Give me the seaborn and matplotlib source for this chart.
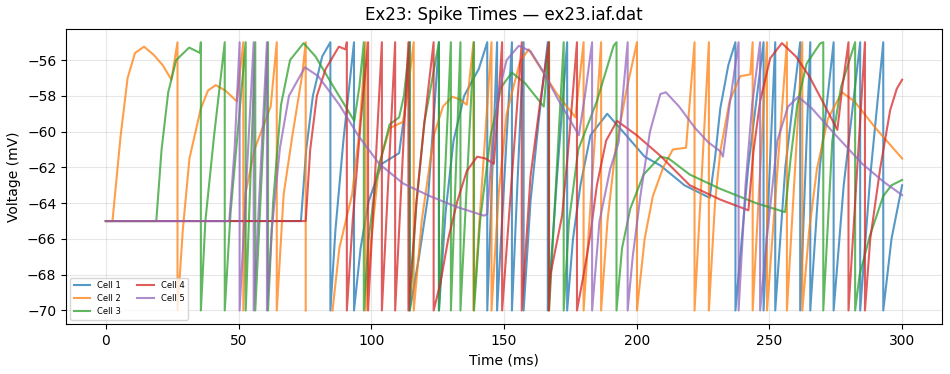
import numpy as np
import pandas as pd
import seaborn as sns
import matplotlib
matplotlib.use("Agg")
import matplotlib.pyplot as plt

# voltage traces (time ms, voltage mV); nan = gap in the trace
cell_names = ["Cell 1", "Cell 2", "Cell 3", "Cell 4", "Cell 5"]

cell1_t = [0, 73.5, 75.5, 78, 81.5, 84.6, 84.6, 86.5, 89.5, 93.5, 93.5, 96, 99, 104, 110.5, 112.5, 114.5, 114.5,
           118, 121.5, 125.5, 125.5, 128, 131, 135, 137.5, 140.5, 143.7, 143.7, 147.4, 147.4, 153, 153, 157.4, 157.4,
           160, 163, 166.5, 166.5, 170, 173.8, 173.8, 176, 178.8, 182.6, 188.9, 196, 203, 209, 218, 227.5, 229.5,
           231.5, 234.5, 237.2, 237.2, 242, 247.8, 247.8, 252.2, 252.2, 256, 261.6, 261.6, 265.4, 265.4, 269, 274.2,
           274.2, 278, 284.2, 284.2, 288, 292.9, 292.9, 296, 300]
cell1_v = [-65, -65, -61, -58, -55.8, -55, -70, -65.5, -60.5, -55, -70, -66.5, -63.9, -61.8, -61.2, -59, -55, -70,
           -67, -63.5, -55, -70, -64.5, -60.5, -58, -57.3, -56.5, -55, -70, -55, -70, -55, -70, -55, -70,
           -63.9, -59.5, -55, -70, -62.5, -55, -70, -66, -63, -60.2, -59.0, -60.2, -61.4, -61.9, -63, -63.7, -61.5,
           -58.7, -56.3, -55, -70, -62, -55, -70, -55, -70, -62, -55, -70, -55, -70, -62, -55,
           -70, -63, -55, -70, -62.5, -55, -70, -66, -63]

cell2_t = [0, 2.5, 5.6, 8.2, 11, 14.4, 18, 21.5, 24.7, 27, 27, 29, 31.5, 35.8, 38.5, 41.4, 45, 49.3, 51.8, 51.8,
           52.7, 56, 62.1, 64.4, 64.4, 67, 70.3, 74, 75.3, 75.3, np.nan, 85.4, 88, 92.8, 95.5, 97.9, 97.9, 100, 103,
           107, 112, 113.5, 116, 116, 119, 123.6, 127, 130.5, 133.5, 136, 138.5, 138.5, 145.3, 145.3, 148, 151, 156,
           159.3, 164, 170, 176.9, 180, 180, 186.6, 186.6, 189, 192, 196, 200.1, 200.1, 203, 206.1, 210, 213.6,
           218.6, 221.8, 221.8, 227.2, 227.2, 229.5, 231.5, 235, 239, 242.8, 243.7, 243.7, 249.1, 249.1, 256.6,
           256.6, 262.4, 262.4, 265, 267.9, 272, 277.3, 282, 290, 300]
cell2_v = [-65, -65, -60.2, -57.0, -55.6, -55.25, -55.7, -56.3, -57.1, -55, -70, -65.5, -61.5, -58.7, -57.7, -57.4,
           -57.7, -58.3, -55, -70, -63.4, -61, -58.6, -55, -70, -63.5, -60.2, -56.8, -55, -70, np.nan, -70, -66.5,
           -63.5, -60, -55, -70, -66, -61.8, -59.8, -59.45, -58, -55, -70, -65, -60.2, -58.6, -58.05, -58.2, -58.5,
           -55, -70, -55, -70, -63.5, -59, -56.1, -55.4, -56.5, -57.9, -59.2, -55, -70, -55, -70, -65, -61, -57.8,
           -55, -70, -66, -63.6, -62, -61, -60.9, -55, -70, -55, -70, -64, -61.1, -58.3, -56.9, -56.8, -55, -70,
           -55, -70, -55, -70, -55, -70, -65.5, -62.1, -59.3, -57.8, -58.3, -59.8, -61.5]

cell3_t = [0, 19, 21, 23.5, 26.5, 31.4, 35.5, 35.8, 35.8, 37.5, 40.8, 44.8, 44.8, 47, 52.7, 52.7, 56.3, 56.3, 61.1,
           61.1, 63, 66, 69.4, 74.5, 79, 85, 93.6, 95.5, 97.2, 97.2, 99, 102, 106.9, 110.5, 112.3, 114.5, 114.5, 117,
           120, 125.5, 125.5, 130, 130, 133.6, 133.6, 138.7, 138.7, 141, 145, 149, 153, 158, 165, 167, 167, 172.5,
           172.5, 174.5, 178, 185, 191.3, 192.4, 192.4, 194.5, 197.6, 202.6, 208.9, 212, 220, 231.5, 245, 255.9,
           258, 260.5, 264, 269.1, 270.3, 270.3, 273.7, 277, 282.3, 282.3, 284, 287.9, 292.9, 296, 300]
cell3_v = [-65, -65, -61, -57.8, -56, -55.3, -55.6, -55, -70, -65, -60.2, -55, -70, -64.5, -55, -70, -55, -70, -55,
           -70, -64, -58.5, -56, -55.05, -55.8, -57.3, -59.4, -57.5, -55, -70, -66, -62.5, -59.6, -59.2, -58, -55,
           -70, -64, -59.5, -55, -70, -55, -70, -55, -70, -55, -70, -65, -60.2, -57.5, -56.7, -57.3, -58.6, -55,
           -70, -55, -70, -65, -61, -58.3, -55.2, -55, -70, -66.5, -64.3, -62.4, -61.4, -61.5, -62.4, -63.2, -64,
           -64.5, -61.5, -58.5, -56.2, -55.07, -55, -70, -60.5, -57.5, -55, -70, -68, -65.8, -63.6, -63, -62.7]

cell4_t = [0, 75.3, 77, 79.5, 82.8, 87.8, 90.3, 90.8, 90.8, 93, 96, 98.8, 98.8, 104, 104, 109, 109, 114, 114, 117,
           120, 123.5, 123.5, 126, 129, 132.4, 136, 139.9, 143, 146.2, 147.8, 149.3, 149.3, 156.7, 156.7, 160,
           163.5, 166.9, 166.9, 167.5, 171.9, 174.5, 177.5, 177.5, 180, 182.5, 185, 188.5, 192.6, 200, 208.9, 220,
           231.5, 242.1, 244, 246.5, 250.3, 254.7, 260, 265, 270, 275.6, 277.5, 279.8, 279.8, 286, 286, 288, 291.7,
           295.5, 298, 300]
cell4_v = [-65, -65, -61, -58, -56.5, -55.25, -55.4, -55, -70, -65, -59.5, -55, -70, -55, -70, -55, -70, -55, -70,
           -64, -59.5, -55, -70, -68.5, -66, -63.9, -62.2, -61.4, -61.5, -61.8, -58.5, -55, -70, -55, -70, -62.5,
           -58.5, -55, -70, -68, -64.7, -60.5, -55, -70, -68, -65.8, -63, -60.5, -59.4, -60.2, -61.35, -63,
           -63.8, -64.4, -61.1, -58.3, -55.9, -55.05, -55.8, -56.9, -58.3, -59.9, -57.5, -55, -70, -55, -70, -66,
           -62.1, -58.8, -57.6, -57.1]

cell5_t = [0, 46.5, 48.5, 50.4, 50.4, 55.7, 55.7, 60.7, 60.7, 62.5, 65.6, 69, 75, 80, 88, 95, 103, 112, 122, 132,
           142.5, 143.7, 145.5, 148, 151, 155.6, 160, 165, 170, 178.2, 180.5, 183.2, 183.2, 186, 190, 193.2, 196.6,
           196.6, 198.5, 201.4, 205, 208.9, 211, 216, 222, 227, 231.5, 232.5, 235, 238.4, 238.4, 241, 243.5, 246.5,
           246.5, 249, 253, 257, 260.9, 266, 275, 285, 293, 300]
cell5_v = [-65, -65, -61, -55, -70, -55, -70, -55, -70, -65.5, -60.9, -58, -56.4, -56.9, -58.5, -60.2, -61.8, -62.9,
           -63.6, -64.2, -64.7, -64.6, -61, -57.8, -56, -55.2, -55.5, -56.7, -58.1, -60.2, -58, -55, -70, -65, -62.1,
           -60.6, -55, -70, -67, -63.6, -60, -57.9, -57.8, -58.6, -59.8, -60.6, -61.1, -61.4, -58.5, -55, -70, -63,
           -58.5, -55, -70, -66, -60.5, -58.6, -58.05, -58.7, -60.2, -61.8, -62.8, -63.55]

traces = [(cell1_t, cell1_v), (cell2_t, cell2_v), (cell3_t, cell3_v), (cell4_t, cell4_v), (cell5_t, cell5_v)]

rows = []
for name, (ts, vs) in zip(cell_names, traces):
    seg = 0
    for t, v in zip(ts, vs):
        if np.isnan(t):
            seg += 1
            continue
        rows.append({"cell": name, "seg": seg, "time": t, "voltage": v})
df = pd.DataFrame(rows)

fig, ax = plt.subplots(figsize=(9.5, 3.74), dpi=100)
fig.subplots_adjust(left=0.0695, right=0.9915, top=0.923, bottom=0.134)

sns.lineplot(data=df, x="time", y="voltage", hue="cell", units="seg", estimator=None, sort=False,
             palette=sns.color_palette("tab10", 5), linewidth=1.5, alpha=0.75, ax=ax)

ax.set_title("Ex23: Spike Times — ex23.iaf.dat")
ax.set_xlabel("Time (ms)")
ax.set_ylabel("Voltage (mV)")
ax.grid(True, alpha=0.3)
ax.legend(loc="lower left", ncol=2, fontsize=6)

plt.savefig("out.png", dpi=100)
